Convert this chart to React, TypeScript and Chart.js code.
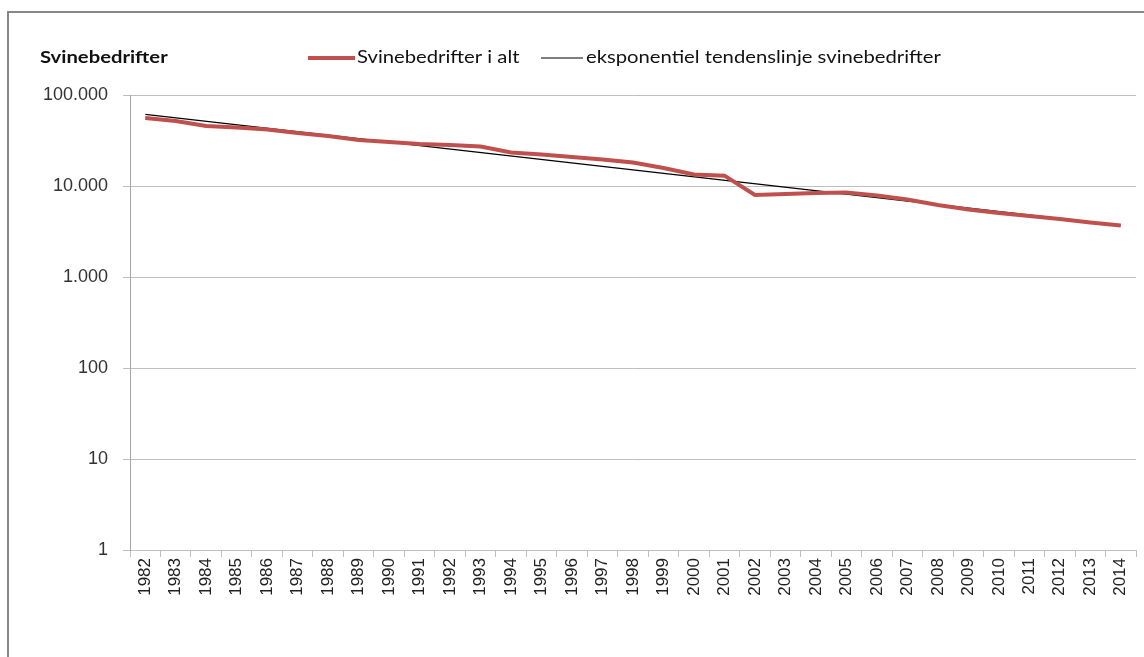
import React, { useEffect, useRef } from "react";
import { Chart, registerables } from "chart.js";

Chart.register(...registerables);

const years = [
  "1982", "1983", "1984", "1985", "1986", "1987", "1988", "1989", "1990", "1991", "1992",
  "1993", "1994", "1995", "1996", "1997", "1998", "1999", "2000", "2001", "2002", "2003",
  "2004", "2005", "2006", "2007", "2008", "2009", "2010", "2011", "2012", "2013", "2014",
];

const svinebedrifter = [
  55900, 51800, 45600, 43900, 41800, 38200, 35400, 32000, 30500, 28900, 28200,
  27200, 23400, 22200, 20800, 19600, 18100, 15800, 13400, 13000, 7960, 8170,
  8380, 8490, 7870, 7110, 6190, 5520, 5050, 4680, 4340, 3970, 3680,
];

const trendYears = ["1982", "2014"];
const trendValues = [61400, 3700];

const yTicks = [1, 10, 100, 1000, 10000, 100000];

const titleText = "Svinebedrifter";
const seriesLabel = "Svinebedrifter i alt";
const trendLabel = "eksponentiel tendenslinje svinebedrifter";

const RED = "#C0504D";

function fmt(v: number): string {
  return String(Math.round(v)).replace(/\B(?=(\d{3})+(?!\d))/g, ".");
}

const STRETCH = 1.19;

function stretchedText(ctx: CanvasRenderingContext2D, text: string, x: number, y: number) {
  ctx.save();
  ctx.translate(x, y);
  ctx.scale(STRETCH, 1);
  ctx.fillText(text, 0, 0);
  ctx.restore();
}

const decorPlugin = {
  id: "decor",
  beforeDraw(chart: any) {
    const ctx = chart.ctx;
    ctx.save();
    ctx.fillStyle = "#fff";
    ctx.fillRect(0, 0, chart.width, chart.height);
    ctx.strokeStyle = "#878787";
    ctx.lineWidth = 2;
    ctx.strokeRect(8, 12, chart.width + 20, chart.height + 20);
    ctx.restore();
  },
  afterDraw(chart: any) {
    const ctx = chart.ctx;
    const ds = chart.data.datasets;
    ctx.save();
    ctx.textBaseline = "middle";
    ctx.textAlign = "left";
    ctx.fillStyle = "#111";
    ctx.font = "bold 17px Lato";
    stretchedText(ctx, titleText, 40, 58);
    ctx.font = "17px Lato";
    ctx.strokeStyle = ds[0].borderColor;
    ctx.lineWidth = 4;
    ctx.beginPath();
    ctx.moveTo(308, 58);
    ctx.lineTo(355, 58);
    ctx.stroke();
    stretchedText(ctx, ds[0].label, 357, 58);
    ctx.strokeStyle = ds[1].borderColor;
    ctx.lineWidth = 1.2;
    ctx.beginPath();
    ctx.moveTo(541, 58);
    ctx.lineTo(583, 58);
    ctx.stroke();
    stretchedText(ctx, ds[1].label, 586, 58);
    ctx.restore();
  },
};

export default function App() {
  const ref = useRef<HTMLCanvasElement>(null);
  useEffect(() => {
    document.body.style.margin = "0";
    const canvas = ref.current!;
    const xFont = { family: "'Liberation Sans'", size: 17 };
    const yFont = { family: "'Liberation Sans'", size: 18 };
    const chart = new Chart(canvas, {
      type: "line",
      data: {
        labels: years,
        datasets: [
          {
            label: seriesLabel,
            data: svinebedrifter,
            borderColor: RED,
            backgroundColor: RED,
            borderWidth: 4,
            pointRadius: 0,
            tension: 0,
          },
          {
            label: trendLabel,
            data: trendYears.map((x, i) => ({ x, y: trendValues[i] })) as any,
            borderColor: "#000",
            backgroundColor: "#000",
            borderWidth: 1.3,
            pointRadius: 0,
            spanGaps: true,
          },
        ],
      },
      options: {
        animation: false,
        responsive: false,
        devicePixelRatio: 1,
        layout: { padding: { top: 95, right: 8, left: 0, bottom: 0 } },
        plugins: {
          legend: { display: false },
          tooltip: { enabled: false },
        },
        scales: {
          x: {
            type: "category",
            offset: true,
            afterFit: (s: any) => {
              s.height = 107;
            },
            grid: {
              offset: true,
              drawOnChartArea: false,
              drawTicks: true,
              tickLength: 7,
              color: "#BFBFBF",
            },
            border: { display: true, color: "#BFBFBF" },
            ticks: {
              minRotation: 90,
              maxRotation: 90,
              autoSkip: false,
              padding: 1,
              color: "#222",
              font: xFont,
            },
          },
          y: {
            type: "logarithmic",
            min: 1,
            max: 100000,
            afterFit: (s: any) => {
              s.width = 130;
            },
            afterBuildTicks: (s: any) => {
              s.ticks = yTicks.map((v) => ({ value: v }));
            },
            grid: {
              color: "#BFBFBF",
              tickLength: 7,
              drawTicks: true,
            },
            border: { display: true, color: "#A6A6A6" },
            ticks: {
              padding: 15,
              color: "#333",
              font: yFont,
              callback: (v: any) => fmt(Number(v)),
            },
          },
        },
      },
      plugins: [decorPlugin],
    });
    return () => chart.destroy();
  }, []);
  return (
    <div style={{ width: 1144, height: 657, position: "relative" }}>
      <canvas ref={ref} width={1144} height={657} style={{ display: "block" }} />
    </div>
  );
}
